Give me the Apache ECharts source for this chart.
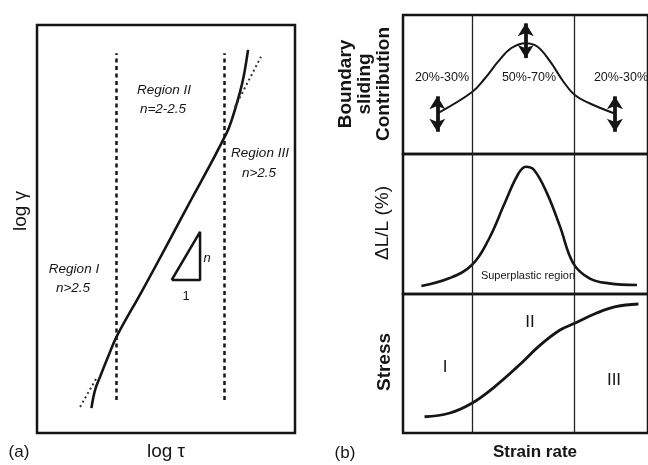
<!DOCTYPE html>
<html>
<head>
<meta charset="utf-8">
<script src="https://cdn.jsdelivr.net/npm/echarts@6/dist/echarts.min.js"></script>
<style>html,body{margin:0;padding:0;background:#fff}#c{width:648px;height:465px}</style>
</head>
<body>
<div id="c"></div>
<script>
// ---- Panel (a): log gamma vs log tau (arbitrary units 0-100) ----
const creepCurve = [[21.1,6.1],[22.5,10.5],[24.4,13.7],[27.5,18.6],[31.0,23.8],[40.7,34.8],[50.4,46.1],[60.1,57.6],[67.1,65.7],[71.7,71.3],[74.4,74.8],[76.7,79.2],[78.7,83.6],[80.2,87.7],[81.8,93.9]];
const lowExtension = [[16.7,6.4],[23.3,13.7]];
const highExtension = [[76.7,79.9],[86.8,92.2]];
const regionLimitsA = [30.9, 72.5];
const regionLimitSpanA = [8.1, 93.1];
const slopeTriangle = [[52.2,37.5],[63.2,37.5],[63.2,49.3],[52.2,37.5]];

// ---- Panel (b): versus strain rate (arbitrary units 0-100) ----
const regionLimitsB = [28.4, 70.0];
const slidingCurve = [[14.1,29.3],[28.1,44.4],[33.5,54.5],[38.8,66.4],[44.1,76.1],[50.1,79.7],[54.8,77.3],[60.1,66.4],[65.5,52.0],[70.1,42.4],[76.1,36.5],[86.1,29.3]];
const slidingRanges = [[14.0,41.5,16.0],[50.1,94.0,69.0],[86.5,41.5,16.0]];
const elongationCurve = [[7.5,5.7],[18.8,11.2],[28.1,20.7],[34.8,38.4],[41.5,64.8],[46.8,85.0],[50.1,90.9],[53.5,88.6],[58.8,71.9],[64.1,48.1],[69.5,21.9],[76.1,11.2],[84.1,7.6],[95.5,6.4]];
const stressCurve = [[8.8,11.7],[18.8,14.2],[28.1,21.4],[37.5,33.4],[46.8,47.8],[56.1,63.4],[64.1,74.1],[70.1,78.9],[78.8,86.1],[86.8,90.9],[96.1,92.8]];

const FF = '"Liberation Sans", Arial, Helvetica, sans-serif';
const INK = '#151515';

function hiddenAxis(gridIndex){
  return {type:'value', gridIndex, min:0, max:100, show:false};
}
function txt(text, x, y, font, rot){
  return {type:'text', x, y, rotation: rot||0, silent:true, z:10,
    style:{text, font: font + ' ' + FF, fill: INK, align:'center', verticalAlign:'middle', textAlign:'center', textVerticalAlign:'middle', lineHeight: 19}};
}
const curveStyle = {color: INK, width: 2.6};

const chart = echarts.init(document.getElementById('c'), null, {renderer:'canvas'});
chart.setOption({
  backgroundColor:'#fff',
  animation:false,
  grid:[
    {left:37, top:25, width:258, height:408, show:true, borderColor:INK, borderWidth:2.5, backgroundColor:'transparent'},
    {left:403, top:15, width:250, height:139, show:true, borderColor:INK, borderWidth:2.5, backgroundColor:'transparent'},
    {left:403, top:154, width:250, height:140, show:true, borderColor:INK, borderWidth:2.5, backgroundColor:'transparent'},
    {left:403, top:294, width:250, height:139, show:true, borderColor:INK, borderWidth:2.5, backgroundColor:'transparent'}
  ],
  xAxis:[hiddenAxis(0),hiddenAxis(1),hiddenAxis(2),hiddenAxis(3)],
  yAxis:[hiddenAxis(0),hiddenAxis(1),hiddenAxis(2),hiddenAxis(3)],
  series:[
    {type:'line', xAxisIndex:0, yAxisIndex:0, data:creepCurve, smooth:0.4, showSymbol:false, lineStyle:curveStyle,
      markLine:{silent:true, symbol:'none', label:{show:false},
        lineStyle:{color:INK, width:2.5, type:[4,3.5]},
        data: regionLimitsA.map(v => [{coord:[v, regionLimitSpanA[0]]},{coord:[v, regionLimitSpanA[1]]}])}},
    {type:'line', xAxisIndex:0, yAxisIndex:0, data:lowExtension, showSymbol:false, lineStyle:{color:'#333', width:2, type:[2,3]}},
    {type:'line', xAxisIndex:0, yAxisIndex:0, data:highExtension, showSymbol:false, lineStyle:{color:'#333', width:2, type:[2,3]}},
    {type:'line', xAxisIndex:0, yAxisIndex:0, data:slopeTriangle, showSymbol:false, lineStyle:{color:INK, width:2.5}},
    {type:'line', xAxisIndex:1, yAxisIndex:1, data:slidingCurve, smooth:0.4, showSymbol:false, lineStyle:{color:INK, width:2},
      markLine:{silent:true, label:{show:false}, symbol:'none',
        lineStyle:{color:'#222', width:1.3, type:'solid'},
        data: regionLimitsB.map(v => ({xAxis:v}))}},
    {type:'line', xAxisIndex:1, yAxisIndex:1, data:[], showSymbol:false,
      markLine:{silent:true, label:{show:false}, symbol:['arrow','arrow'], symbolSize:[12,13],
        lineStyle:{color:INK, width:3.8, type:'solid'},
        data: slidingRanges.map(r => [{coord:[r[0], r[1]]},{coord:[r[0], r[2]]}])}},
    {type:'line', xAxisIndex:2, yAxisIndex:2, data:elongationCurve, smooth:0.4, showSymbol:false, lineStyle:{color:INK, width:2.6},
      markLine:{silent:true, label:{show:false}, symbol:'none',
        lineStyle:{color:'#222', width:1.3, type:'solid'},
        data: regionLimitsB.map(v => ({xAxis:v}))}},
    {type:'line', xAxisIndex:3, yAxisIndex:3, data:stressCurve, smooth:0.4, showSymbol:false, lineStyle:{color:INK, width:2.8},
      markLine:{silent:true, label:{show:false}, symbol:'none',
        lineStyle:{color:'#222', width:1.3, type:'solid'},
        data: regionLimitsB.map(v => ({xAxis:v}))}}
  ],
  graphic:[
    txt('Region II', 164, 90, 'italic 13.5px'),
    txt('n=2-2.5', 163, 109, 'italic 13.5px'),
    txt('Region III', 260, 153, 'italic 13.5px'),
    txt('n>2.5', 259, 173, 'italic 13.5px'),
    txt('Region I', 74, 269, 'italic 13.5px'),
    txt('n>2.5', 73, 288, 'italic 13.5px'),
    txt('n', 207, 258, 'italic 13px'),
    txt('1', 186, 296, '13px'),
    txt('log γ', 21, 211, '19px', Math.PI/2),
    txt('log τ', 166, 452, '19px'),
    txt('(a)', 19, 452, '17px'),
    txt('(b)', 345, 453, '17px'),
    txt('Strain rate', 535, 452, 'bold 17px'),
    txt('Boundary\nsliding\nContribution', 365, 84, 'bold 19px', Math.PI/2),
    txt('ΔL/L (%)', 383, 223, '19px', Math.PI/2),
    txt('Stress', 385, 362, 'bold 19px', Math.PI/2),
    txt('20%-30%', 442, 78, '12.5px'),
    txt('50%-70%', 529, 78, '12.5px'),
    txt('20%-30%', 621, 78, '12.5px'),
    txt('Superplastic region', 528, 276, '11px'),
    txt('I', 445, 367, '17px'),
    txt('II', 530, 322, '17px'),
    txt('III', 614, 380, '17px')
  ]
});
</script>
</body>
</html>
